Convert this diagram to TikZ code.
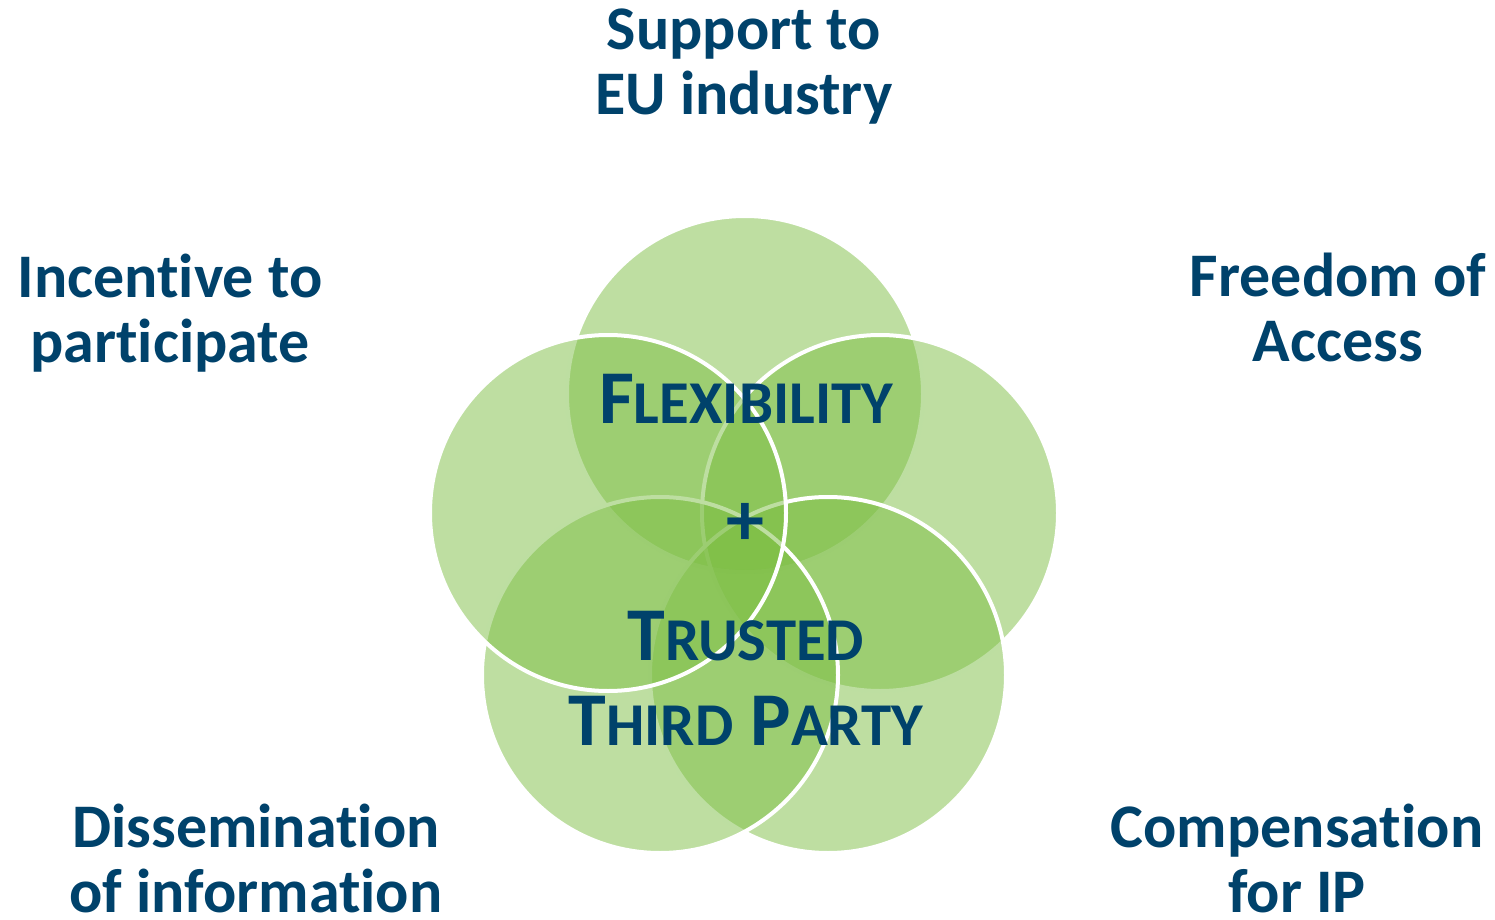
\documentclass[tikz,border=0pt]{standalone}
\usepackage{fontspec}
\setmainfont{Carlito}[Ligatures=CommonOff]
\usepackage{tikz}

\definecolor{petalgreen}{RGB}{125,190,68}
\definecolor{inkblue}{RGB}{0,66,107}

% small capitals, drawn as smaller upper case letters
\newcommand{\smallcap}[1]{{\fontsize{30.4}{42.5}\selectfont #1}}

\begin{document}
\begin{tikzpicture}[x=0.5pt, y=-0.5pt,
  petal/.style={draw=white, line width=2pt, fill=petalgreen, fill opacity=0.5},
  aim/.style={text=inkblue, font=\fontsize{31}{32.5}\selectfont\bfseries,
    align=center, anchor=base, inner sep=0pt},
  core/.style={text=inkblue, font=\fontsize{38}{42.5}\selectfont\bfseries,
    align=center, anchor=base, inner sep=0pt}]

  \useasboundingbox (0,0) rectangle (1495,920);

  % Define the centres of the five circles
  \coordinate (T) at (745,394);
  \coordinate (R) at (880,513);
  \coordinate (BR) at (828,675);
  \coordinate (BL) at (660,675);
  \coordinate (L) at (608,513);

  % Draw the circles, clockwise from the top
  \foreach \c in {T,R,BR,BL,L}
    \draw[petal] (\c) circle[radius=89pt];

  % Label the five aims (placed at the baseline of the last line)
  \node[aim] (support) at (744,115) {Support to\\EU industry};
  \node[aim] (incentive) at (170,362) {Incentive to\\participate};
  \node[aim] (freedom) at (1338,361) {Freedom of\\Access};
  \node[aim] (dissemination) at (256,912) {Dissemination\\of information};
  \node[aim] (compensation) at (1297,912) {Compensation\\for IP};

  % Text in the middle
  \node[core] (flexibility) at (746,423) {F\smallcap{LEXIBILITY}};
  \node[core] (plus) at (745,545) {+};
  \node[core] (party) at (746,745) {T\smallcap{RUSTED}\\T\smallcap{HIRD} P\smallcap{ARTY}};
\end{tikzpicture}
\end{document}
